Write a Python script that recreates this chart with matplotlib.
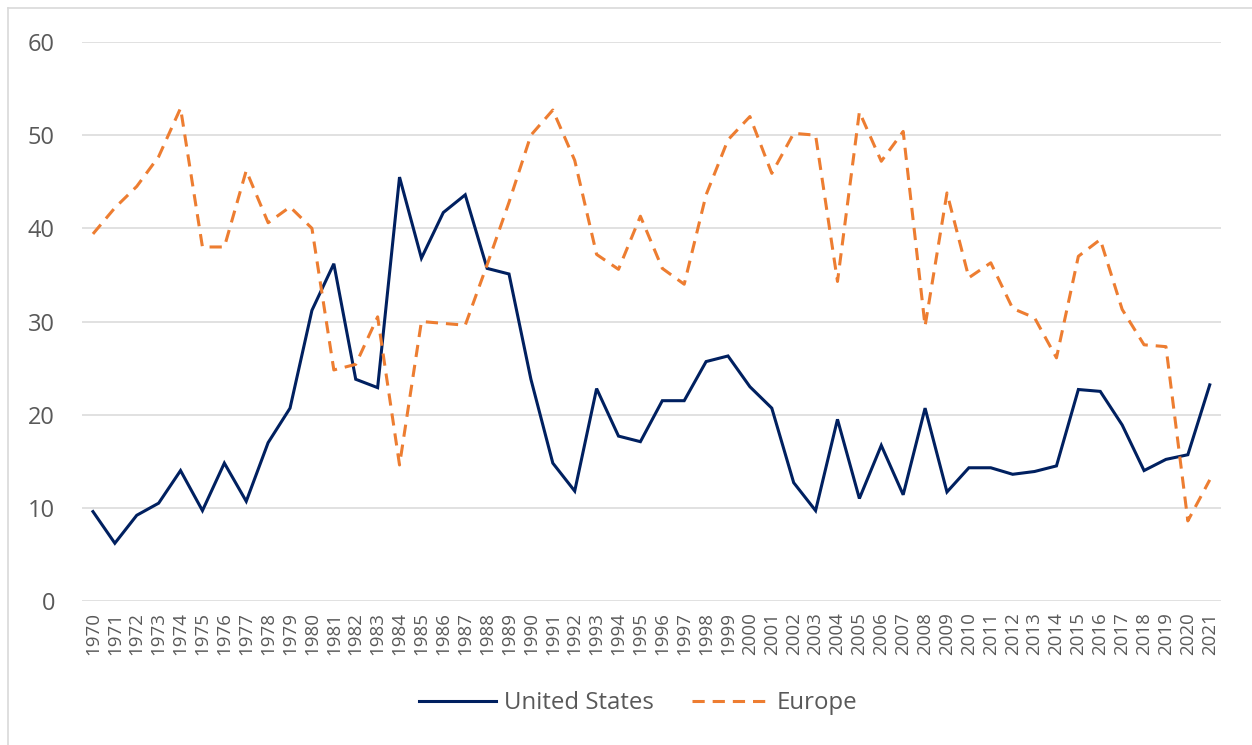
import matplotlib
matplotlib.use("Agg")
import matplotlib.pyplot as plt
from matplotlib.lines import Line2D

# colors
NAVY = "#002060"
ORANGE = "#ED7D31"
GRID = "#D9D9D9"
TEXT = "#595959"

years = list(range(1970, 2022))

united_states = [
    9.6, 6.2, 9.2, 10.5, 14.0, 9.7, 14.8, 10.7, 17.0, 20.7,
    31.2, 36.2, 23.8, 22.9, 45.5, 36.8, 41.7, 43.6, 35.7, 35.1,
    23.8, 14.8, 11.8, 22.8, 17.7, 17.1, 21.5, 21.5, 25.7, 26.3,
    23.0, 20.7, 12.7, 9.7, 19.5, 11.0, 16.7, 11.4, 20.7, 11.7,
    14.3, 14.3, 13.6, 13.9, 14.5, 22.7, 22.5, 18.9, 14.0, 15.2,
    15.7, 23.2,
]

europe = [
    39.4, 42.2, 44.5, 47.7, 52.9, 38.0, 38.0, 46.2, 40.6, 42.3,
    40.0, 24.8, 25.4, 30.5, 14.6, 30.0, 29.8, 29.6, 36.1, 42.8,
    50.0, 52.7, 47.3, 37.2, 35.6, 41.3, 35.7, 34.0, 43.6, 49.5,
    52.0, 45.9, 50.2, 50.0, 34.3, 52.5, 47.2, 50.4, 29.5, 43.8,
    34.7, 36.3, 31.4, 30.4, 26.1, 37.0, 38.8, 31.3, 27.5, 27.3,
    8.6, 13.0,
]

plt.rcParams['font.family'] = ['Open Sans', 'DejaVu Sans']

fig = plt.figure(figsize=(12.52, 7.45), dpi=100)
ax = fig.add_axes([0.0655, 0.1933, 0.9095, 0.7503])

x = list(range(len(years)))
ax.plot(x, united_states, color=NAVY, linewidth=2.2, label='United States',
        solid_joinstyle='miter')
ax.plot(x, europe, color=ORANGE, linewidth=2.2, linestyle=(0, (4, 2.6)),
        dash_capstyle='butt', label='Europe')

ax.set_xlim(-0.5, len(years) - 0.5)
ax.set_ylim(0, 60)
ax.set_yticks(range(0, 61, 10))
ax.set_xticks(x)
ax.set_xticklabels([str(y) for y in years], rotation=90, fontsize=13.5, color=TEXT)
ax.tick_params(axis='y', labelsize=17, colors=TEXT, length=0, pad=19.5)
ax.tick_params(axis='x', length=0, pad=8)
ax.grid(axis='y', color=GRID, linewidth=1.1)
ax.set_axisbelow(True)
for side in ax.spines.values():
    side.set_visible(False)

fig.legend(loc='center', bbox_to_anchor=(0.510, 0.0564), ncol=2, frameon=False,
           fontsize=17.3, labelcolor=TEXT, handlelength=3.2, handletextpad=0.34,
           columnspacing=1.57)

# thin outer frame along the top and left edges
fig.add_artist(Line2D([8 / 1252, 8 / 1252], [0, 1 - 8 / 745], transform=fig.transFigure,
                      color=GRID, linewidth=1.2))
fig.add_artist(Line2D([8 / 1252, 1], [1 - 8 / 745, 1 - 8 / 745], transform=fig.transFigure,
                      color=GRID, linewidth=1.2))

fig.savefig("out.png", dpi=100)
